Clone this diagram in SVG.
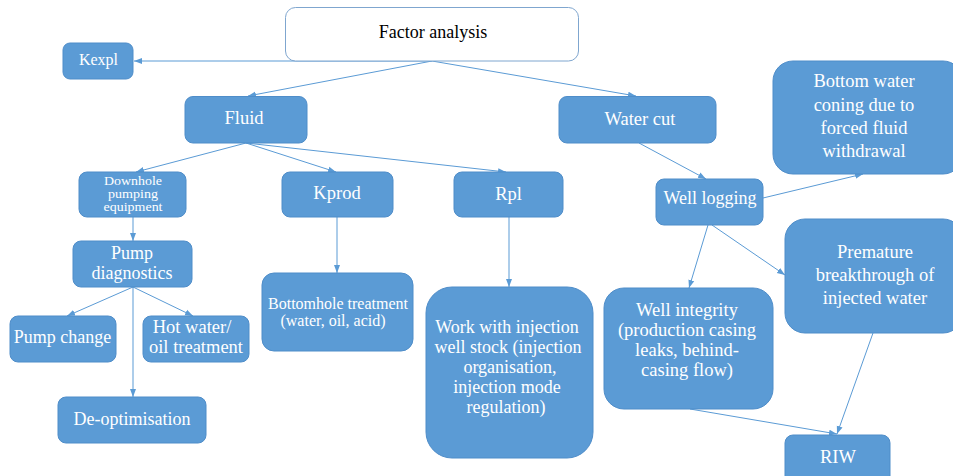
<svg xmlns="http://www.w3.org/2000/svg" width="953" height="476" viewBox="0 0 953 476">
<defs>
<marker id="ah" markerUnits="userSpaceOnUse" markerWidth="8" markerHeight="8" viewBox="0 0 8 8" refX="8" refY="4" orient="auto">
<path d="M0,1 L8,4 L0,7 Z" fill="#5B9BD5"/>
</marker>
</defs>
<style>
.n{fill:#5B9BD5;stroke:#4F8DC9;stroke-width:1}
text{font-family:'Liberation Serif','Times New Roman',serif}
.t{fill:#FFFFFF;text-anchor:middle;font-size:18.5px}
.c{fill:none;stroke:#5B9BD5;stroke-width:1;marker-end:url(#ah)}
</style>
<rect width="953" height="476" fill="#FFFFFF"/>
<g id="connectors">
<path class="c" d="M432 61 H134"/>
<path class="c" d="M432 61 L248 96"/>
<path class="c" d="M432 61 L636 96"/>
<path class="c" d="M246 143 L136 172"/>
<path class="c" d="M246 143 L336 172"/>
<path class="c" d="M246 143 L506 172"/>
<path class="c" d="M133 217 V241"/>
<path class="c" d="M133 287 L67 316"/>
<path class="c" d="M133 287 L193 316"/>
<path class="c" d="M133 287 V397"/>
<path class="c" d="M337 217 V273"/>
<path class="c" d="M509 217 V287"/>
<path class="c" d="M639 143 L706 179"/>
<path class="c" d="M763 198 L863 174"/>
<path class="c" d="M708 225 L689 288"/>
<path class="c" d="M712 225 L785 275"/>
<path class="c" d="M690 409 L837 434"/>
<path class="c" d="M873 333 L837 434"/>
</g>
<g id="factor-analysis">
<rect x="285.5" y="7.5" width="293" height="53.5" rx="10" fill="#FFFFFF" stroke="#7FA6CF" stroke-width="1"/>
<text x="433" y="38" font-family="Liberation Serif, serif" font-size="18" fill="#000000" text-anchor="middle">Factor analysis</text>
</g>
<g id="kexpl">
<rect class="n" x="63" y="43" width="70" height="36" rx="7"/>
<text class="t" x="98.5" y="65" font-family="Liberation Serif, serif" style="font-size:16px">Kexpl</text>
</g>
<g id="fluid">
<rect class="n" x="185" y="96.5" width="122" height="46.5" rx="8"/>
<text class="t" x="244" y="124" font-family="Liberation Serif, serif">Fluid</text>
</g>
<g id="water-cut">
<rect class="n" x="559" y="96.5" width="157" height="46.5" rx="8"/>
<text class="t" x="640" y="125" font-family="Liberation Serif, serif">Water cut</text>
</g>
<g id="downhole">
<rect class="n" x="79" y="172" width="107" height="45" rx="8"/>
<text class="t" x="133" y="184.5" font-family="Liberation Serif, serif" style="font-size:12px" textLength="58" lengthAdjust="spacingAndGlyphs">Downhole</text>
<text class="t" x="133" y="197.5" font-family="Liberation Serif, serif" style="font-size:12px" textLength="50" lengthAdjust="spacingAndGlyphs">pumping</text>
<text class="t" x="133" y="210.5" font-family="Liberation Serif, serif" style="font-size:12px" textLength="59" lengthAdjust="spacingAndGlyphs">equipment</text>
</g>
<g id="kprod">
<rect class="n" x="282" y="172" width="111" height="45" rx="8"/>
<text class="t" x="337" y="199" font-family="Liberation Serif, serif">Kprod</text>
</g>
<g id="rpl">
<rect class="n" x="454" y="172" width="109" height="45" rx="8"/>
<text class="t" x="508.5" y="200" font-family="Liberation Serif, serif">Rpl</text>
</g>
<g id="well-logging">
<rect class="n" x="656" y="179" width="107" height="46" rx="8"/>
<text class="t" x="710" y="204" font-family="Liberation Serif, serif" style="font-size:18px">Well logging</text>
</g>
<g id="bottom-water">
<rect class="n" x="773" y="61" width="190" height="113" rx="20"/>
<text class="t" x="864" y="87" font-family="Liberation Serif, serif">Bottom water</text>
<text class="t" x="864" y="111" font-family="Liberation Serif, serif">coning due to</text>
<text class="t" x="864" y="134" font-family="Liberation Serif, serif">forced fluid</text>
<text class="t" x="864" y="157" font-family="Liberation Serif, serif">withdrawal</text>
</g>
<g id="pump-diagnostics">
<rect class="n" x="73" y="241" width="119" height="46" rx="8"/>
<text class="t" x="132" y="259" font-family="Liberation Serif, serif" style="font-size:18px">Pump</text>
<text class="t" x="132" y="279" font-family="Liberation Serif, serif" style="font-size:18px">diagnostics</text>
</g>
<g id="pump-change">
<rect class="n" x="10" y="316" width="106" height="46" rx="8"/>
<text class="t" x="62.5" y="343" font-family="Liberation Serif, serif" style="font-size:18px">Pump change</text>
</g>
<g id="hot-water">
<rect class="n" x="143" y="316" width="106" height="46" rx="8"/>
<text class="t" x="192" y="333" font-family="Liberation Serif, serif">Hot water/</text>
<text class="t" x="196" y="353" font-family="Liberation Serif, serif">oil treatment</text>
</g>
<g id="de-optimisation">
<rect class="n" x="58" y="397" width="148" height="46" rx="8"/>
<text class="t" x="132" y="425" font-family="Liberation Serif, serif" style="font-size:18px">De-optimisation</text>
</g>
<g id="bottomhole">
<rect class="n" x="262" y="273" width="151" height="78" rx="12"/>
<text class="t" x="338" y="309" font-family="Liberation Serif, serif" style="font-size:16px">Bottomhole treatment</text>
<text class="t" x="333" y="326" font-family="Liberation Serif, serif" style="font-size:16px">(water, oil, acid)</text>
</g>
<g id="work-injection">
<rect class="n" x="426" y="287" width="167" height="171" rx="26"/>
<text class="t" x="507" y="333" font-family="Liberation Serif, serif" style="font-size:18px">Work with injection</text>
<text class="t" x="508" y="353" font-family="Liberation Serif, serif" style="font-size:18px">well stock (injection</text>
<text class="t" x="510" y="373" font-family="Liberation Serif, serif" style="font-size:18px">organisation,</text>
<text class="t" x="507" y="393" font-family="Liberation Serif, serif" style="font-size:18px">injection mode</text>
<text class="t" x="506" y="413" font-family="Liberation Serif, serif" style="font-size:18px">regulation)</text>
</g>
<g id="premature">
<rect class="n" x="785" y="219" width="178" height="114" rx="20"/>
<text class="t" x="875" y="258" font-family="Liberation Serif, serif">Premature</text>
<text class="t" x="875" y="281" font-family="Liberation Serif, serif">breakthrough of</text>
<text class="t" x="875" y="304" font-family="Liberation Serif, serif">injected water</text>
</g>
<g id="well-integrity">
<rect class="n" x="604" y="288" width="169" height="121" rx="20"/>
<text class="t" x="687" y="316" font-family="Liberation Serif, serif">Well integrity</text>
<text class="t" x="687" y="336" font-family="Liberation Serif, serif">(production casing</text>
<text class="t" x="687" y="356" font-family="Liberation Serif, serif">leaks, behind-</text>
<text class="t" x="687" y="376" font-family="Liberation Serif, serif">casing flow)</text>
</g>
<g id="riw">
<rect class="n" x="785" y="435" width="105" height="50" rx="8"/>
<text class="t" x="838" y="463" font-family="Liberation Serif, serif">RIW</text>
</g>
</svg>
